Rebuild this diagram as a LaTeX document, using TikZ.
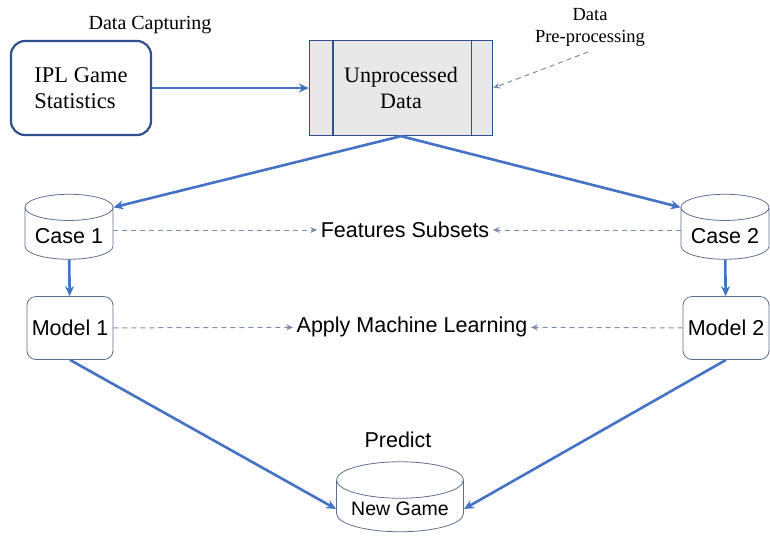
\documentclass[tikz,border=0pt]{standalone}
\usepackage{fontspec}
\setmainfont{Liberation Serif}
\setsansfont{Liberation Sans}
\usepackage{tikz}
\usetikzlibrary{shapes.geometric, arrows.meta}

\definecolor{flowblue}{HTML}{4472C4}
\definecolor{boxblue}{HTML}{2F528F}
\definecolor{dashgray}{HTML}{7F8CA8}
\definecolor{cylgray}{HTML}{5F6F8F}

\begin{document}
\begin{tikzpicture}[x=1pt, y=-1pt,
                serifnote/.style={font=\fontsize{18.5}{22}\selectfont, align=center}, % Serif captions
                sansnote/.style={font=\sffamily\fontsize{21.5}{25}\selectfont}, % Sans captions
                sourcebox/.style={draw=boxblue, line width=2.2pt, rounded corners=14pt, minimum width=140pt, minimum height=94pt, align=left, font=\fontsize{22.5}{26}\selectfont},
                rawbox/.style={draw=boxblue, line width=1.3pt, fill=gray!18, minimum width=183pt, minimum height=95pt, align=center, font=\fontsize{22}{26}\selectfont},
                casedb/.style={cylinder, shape border rotate=90, aspect=0.35, draw=cylgray, line width=0.8pt, minimum width=88pt, minimum height=65pt, font=\sffamily\fontsize{21.5}{25}\selectfont},
                modelbox/.style={draw=cylgray, line width=0.8pt, rounded corners=9pt, minimum width=86pt, minimum height=63pt, font=\sffamily\fontsize{21.5}{25}\selectfont},
                flow/.style={draw=flowblue, line width=2.6pt, -{Stealth[length=10pt, width=9pt]}}, % Main arrows
                hint/.style={draw=dashgray, line width=1pt, dash pattern=on 5pt off 4pt, -{Stealth[length=7pt, width=6pt]}} % Dashed arrows
                ]
                \useasboundingbox (0,0) rectangle (770,536);
                % top row
                \node[sourcebox] (ipl) at (81,88) {IPL Game\\Statistics};
                \node[serifnote, font=\fontsize{20}{24}\selectfont] (capture) at (150,25) {Data Capturing};
                \node[rawbox] (raw) at (401,88) {Unprocessed\\Data};
                \draw[boxblue, line width=1.3pt] ([xshift=24pt]raw.north west) -- ([xshift=24pt]raw.south west);
                \draw[boxblue, line width=1.3pt] ([xshift=-22pt]raw.north east) -- ([xshift=-22pt]raw.south east);
                \node[serifnote] (prep) at (590,27) {Data\\Pre-processing};
                \coordinate (prepend) at (588,52);
                % cases
                \node[casedb] (case1) at (69,236) {Case 1};
                \node[casedb] (case2) at (725,236) {Case 2};
                \node[sansnote] (subsets) at (405,230) {Features Subsets};
                % models
                \node[modelbox] (model1) at (70,328) {Model 1};
                \node[modelbox] (model2) at (726,328) {Model 2};
                \node[sansnote] (apply) at (412,327) {Apply Machine Learning};
                % prediction
                \node[sansnote] (predict) at (398,440) {Predict};
                \node[casedb, minimum width=127pt, minimum height=70pt, font=\sffamily\fontsize{19.5}{23}\selectfont] (newgame) at (400,509) {New Game};
                % connectors
                \draw[flow] (ipl) -- (raw);
                \draw[hint] (prepend) -- (raw.east);
                \draw[flow] (raw.south) -- (case1.after top);
                \draw[flow] (raw.south) -- (case2.before top);
                \draw[flow] (case1) -- (model1);
                \draw[flow] (case2) -- (model2);
                \draw[hint] (case1.east |- subsets.west) -- (subsets.west);
                \draw[hint] (case2.west |- subsets.east) -- (subsets.east);
                \draw[hint] (model1) -- (apply);
                \draw[hint] (model2) -- (apply);
                \draw[flow] (model1.south) -- (newgame.west);
                \draw[flow] (model2.south) -- (newgame.east);
            \end{tikzpicture}
\end{document}
